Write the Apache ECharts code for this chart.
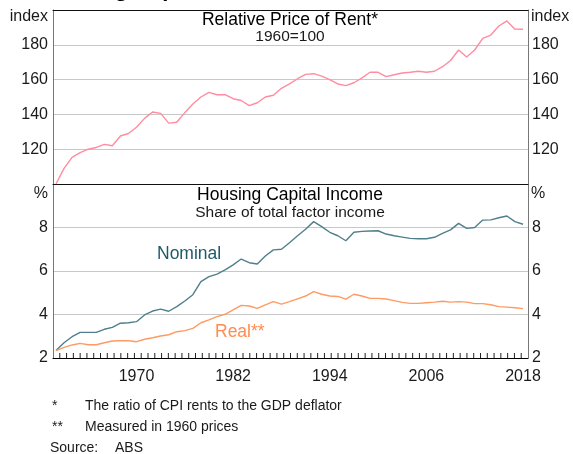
<!DOCTYPE html>
<html>
<head>
<meta charset="utf-8">
<script src="https://cdn.jsdelivr.net/npm/echarts@6/dist/echarts.min.js"></script>
<style>
  html, body { margin: 0; padding: 0; background: #fff; }
  #main { width: 573px; height: 454px; }
</style>
</head>
<body>
<div id="main"></div>
<script>
// annual data, 1960 to 2018
var firstYear = 1960;
var rent = [100, 109, 115.3, 118, 120, 121, 122.8, 122, 127.6, 129,
  132.6, 137.7, 141.4, 140.6, 135, 135.5, 141, 146, 150, 152.7,
  151.3, 151.3, 149, 148, 145, 146.7, 150, 151, 155, 157.5,
  160.5, 163, 163.4, 162, 160, 157.5, 156.5, 158.2, 161, 164.2,
  164.2, 161.7, 162.8, 163.8, 164.2, 164.8, 164.2, 164.8, 167.4, 171,
  177, 173, 177, 183.7, 185.6, 190.8, 193.7, 189, 188.9];
var nominal = [2.34, 2.70, 2.98, 3.18, 3.18, 3.18, 3.32, 3.41, 3.6, 3.62,
  3.67, 3.98, 4.16, 4.25, 4.15, 4.36, 4.62, 4.91, 5.51, 5.74,
  5.86, 6.05, 6.28, 6.55, 6.38, 6.32, 6.69, 6.97, 7.0, 7.3,
  7.62, 7.92, 8.27, 8.04, 7.78, 7.62, 7.39, 7.78, 7.82, 7.84,
  7.85, 7.7, 7.62, 7.56, 7.5, 7.48, 7.48, 7.55, 7.73, 7.89,
  8.19, 7.96, 8.0, 8.34, 8.35, 8.45, 8.53, 8.27, 8.15];
var real = [2.34, 2.49, 2.6, 2.67, 2.61, 2.61, 2.7, 2.78, 2.79, 2.79,
  2.75, 2.86, 2.93, 3.01, 3.07, 3.21, 3.26, 3.36, 3.62, 3.75,
  3.9, 4.01, 4.21, 4.42, 4.39, 4.28, 4.44, 4.59, 4.48, 4.59,
  4.72, 4.85, 5.05, 4.93, 4.85, 4.83, 4.71, 4.93, 4.85, 4.74,
  4.74, 4.71, 4.64, 4.56, 4.51, 4.51, 4.54, 4.57, 4.61, 4.57,
  4.59, 4.57, 4.5, 4.5, 4.45, 4.36, 4.34, 4.31, 4.27];
var yearLabels = [1970, 1982, 1994, 2006, 2018];
var rentTicks = [100, 120, 140, 160, 180, 200];
var shareTicks = [2, 4, 6, 8, 10];

function pairs(vals) {
  return vals.map(function (v, i) { return [firstYear + i, v]; });
}

var chart = echarts.init(document.getElementById('main'));
var font = 'Liberation Sans, Arial, sans-serif';
var txt = '#1a1a1a';
var xMin = 1959.63, xMax = 2018.62;

// small inward ticks on the bottom axis: the axis range split in 70 equal steps
var minorTicks = [];
for (var k = 1; k < 70; k++) minorTicks.push([xMin + k * (xMax - xMin) / 70]);

function lineX(grid, pos) {
  return {
    type: 'value', gridIndex: grid, position: pos, min: xMin, max: xMax,
    axisLine: { show: true, onZero: false, lineStyle: { color: '#111', width: 1 } },
    axisTick: { show: false }, axisLabel: { show: false }, splitLine: { show: false }
  };
}
function yAx(grid, pos, lo, hi, step, hide, split) {
  return {
    type: 'value', gridIndex: grid, position: pos, min: lo, max: hi, interval: step,
    axisLine: { show: true, onZero: false, lineStyle: { color: '#777', width: 1 } },
    axisTick: { show: false },
    axisLabel: {
      fontFamily: font, fontSize: 16, color: txt, margin: pos === 'left' ? 5 : 4,
      formatter: function (v) { return hide.indexOf(v) >= 0 ? '' : String(v); }
    },
    splitLine: { show: split, lineStyle: { color: '#c8c8c8', width: 1 } }
  };
}

var option = {
  animation: false,
  grid: [
    { left: 53, right: 45, top: 10, height: 174 },
    { left: 53, right: 45, top: 184, height: 174 }
  ],
  xAxis: [
    lineX(0, 'top'),
    lineX(0, 'bottom'),
    {
      type: 'value', gridIndex: 1, position: 'bottom', min: xMin, max: xMax,
      axisLine: { show: true, onZero: false, lineStyle: { color: '#000', width: 1 } },
      axisTick: { show: false },
      splitLine: { show: false },
      axisLabel: {
        customValues: yearLabels, fontFamily: font, fontSize: 16, color: txt, margin: 11,
        formatter: function (v) { return String(Math.round(v)); }
      }
    }
  ],
  yAxis: [
    yAx(0, 'left', rentTicks[0], rentTicks[rentTicks.length - 1], 20, [100, 200], true),
    yAx(0, 'right', rentTicks[0], rentTicks[rentTicks.length - 1], 20, [100, 200], false),
    yAx(1, 'left', shareTicks[0], shareTicks[shareTicks.length - 1], 2, [10], true),
    yAx(1, 'right', shareTicks[0], shareTicks[shareTicks.length - 1], 2, [10], false)
  ],
  series: [
    { name: 'Relative Price of Rent', type: 'line', xAxisIndex: 0, yAxisIndex: 0, data: pairs(rent),
      showSymbol: false, lineStyle: { color: '#ff8ca0', width: 1.4 }, z: 5 },
    { name: 'Nominal', type: 'line', xAxisIndex: 2, yAxisIndex: 2, data: pairs(nominal),
      showSymbol: false, lineStyle: { color: '#4f7f8c', width: 1.4 }, z: 5 },
    { name: 'Real', type: 'line', xAxisIndex: 2, yAxisIndex: 2, data: pairs(real),
      showSymbol: false, lineStyle: { color: '#ff9a62', width: 1.4 }, z: 5 },
    {
      // axis ticks drawn through the axis scale
      name: 'ticks', type: 'custom', xAxisIndex: 2, yAxisIndex: 2, silent: true, z: 6,
      data: minorTicks,
      renderItem: function (params, api) {
        var p = api.coord([api.value(0), shareTicks[0]]);
        return {
          type: 'line',
          shape: { x1: p[0], y1: p[1], x2: p[0], y2: p[1] - 5 },
          style: { stroke: '#222', lineWidth: 1 }
        };
      }
    }
  ],
  graphic: [
    // chart title, cut off at the top of the picture
    { type: 'text', left: 40, top: -21, style: { text: 'Housing Capital Income and Rents', font: 'bold 22px ' + font, fill: '#000' } },
    { type: 'text', x: 48, y: 17, style: { text: 'index', font: '16px ' + font, fill: txt, align: 'right', verticalAlign: 'middle' } },
    { type: 'text', x: 531, y: 17, style: { text: 'index', font: '16px ' + font, fill: txt, align: 'left', verticalAlign: 'middle' } },
    { type: 'text', x: 48, y: 194, style: { text: '%', font: '16px ' + font, fill: txt, align: 'right', verticalAlign: 'middle' } },
    { type: 'text', x: 531, y: 194, style: { text: '%', font: '16px ' + font, fill: txt, align: 'left', verticalAlign: 'middle' } },
    { type: 'text', x: 290, y: 20, style: { text: 'Relative Price of Rent*', font: '17.5px ' + font, fill: '#000', align: 'center', verticalAlign: 'middle' } },
    { type: 'text', x: 290, y: 37, style: { text: '1960=100', font: '15.5px ' + font, fill: txt, align: 'center', verticalAlign: 'middle' } },
    { type: 'text', x: 290, y: 195, style: { text: 'Housing Capital Income', font: '17.5px ' + font, fill: '#000', align: 'center', verticalAlign: 'middle' } },
    { type: 'text', x: 290, y: 213, style: { text: 'Share of total factor income', font: '15.5px ' + font, fill: txt, align: 'center', verticalAlign: 'middle' } },
    { type: 'text', x: 157, y: 254, style: { text: 'Nominal', font: '17.5px ' + font, fill: '#1e5a6b', align: 'left', verticalAlign: 'middle' } },
    { type: 'text', x: 215, y: 332, style: { text: 'Real**', font: '17.5px ' + font, fill: '#ff8c50', align: 'left', verticalAlign: 'middle' } },
    { type: 'text', x: 52, y: 406, style: { text: '*', font: '14px ' + font, fill: txt, verticalAlign: 'middle' } },
    { type: 'text', x: 85, y: 406, style: { text: 'The ratio of CPI rents to the GDP deflator', font: '14px ' + font, fill: txt, verticalAlign: 'middle' } },
    { type: 'text', x: 52, y: 427, style: { text: '**', font: '14px ' + font, fill: txt, verticalAlign: 'middle' } },
    { type: 'text', x: 85, y: 427, style: { text: 'Measured in 1960 prices', font: '14px ' + font, fill: txt, verticalAlign: 'middle' } },
    { type: 'text', x: 50, y: 448, style: { text: 'Source:', font: '14px ' + font, fill: txt, verticalAlign: 'middle' } },
    { type: 'text', x: 115, y: 448, style: { text: 'ABS', font: '14px ' + font, fill: txt, verticalAlign: 'middle' } }
  ]
};
chart.setOption(option);
</script>
</body>
</html>
